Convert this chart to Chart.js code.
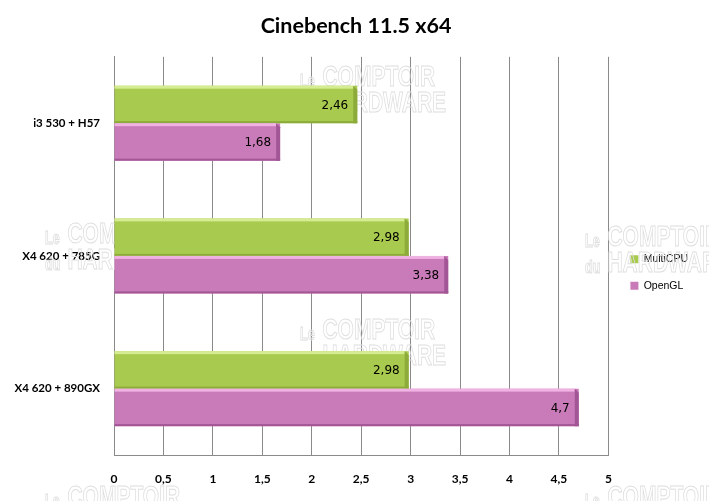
<!DOCTYPE html>
<html>
<head>
<meta charset="utf-8">
<script src="https://cdn.jsdelivr.net/npm/chart.js@4.4.1/dist/chart.umd.min.js"></script>
<style>
  html, body { margin: 0; padding: 0; background: #fff; }
  #wrap { width: 709px; height: 501px; }
</style>
</head>
<body>
<div id="wrap"><canvas id="chart"></canvas></div>
<script>
const categories = ['i3 530 + H57', 'X4 620 + 785G', 'X4 620 + 890GX']
const multiCpu = [2.46, 2.98, 2.98]
const openGl = [1.68, 3.38, 4.7]
const seriesNames = ['MultiCPU', 'OpenGL']

const frNum = v => String(v).replace('.', ',')

// filigrane "Le COMPTOIR du HARDWARE" derriere les barres
const watermark = {
    id: 'watermark',
    beforeDatasetsDraw(chart) {
        const ctx = chart.ctx
        const spots = [[300, 65], [45, 222], [585, 225], [300, 318], [45, 485], [585, 485]]
        ctx.save()
        ctx.strokeStyle = '#dedede'
        ctx.lineWidth = 1
        ctx.textBaseline = 'top'
        spots.forEach(([x, y]) => {
            ctx.save()
            ctx.translate(x, y)
            ctx.scale(0.7, 1)
            ctx.font = 'bold 18px "Liberation Sans"'
            ctx.strokeText('Le', 0, 8)
            ctx.strokeText('du', 0, 34)
            ctx.font = 'bold 30px "Liberation Sans"'
            ctx.strokeText('COMPTOIR', 32, -2)
            ctx.strokeText('HARDWARE', 32, 24)
            ctx.restore()
        })
        ctx.restore()
    }
}

// decale legende et titre un peu vers la droite
const shiftBoxes = {
    id: 'shiftBoxes',
    afterLayout(chart) {
        const lg = chart.legend
        const w = lg.width
        lg.left = chart.chartArea.right + 6
        lg.right = lg.left + w
        const tb = chart.titleBlock
        tb.left += 10
        tb.right += 10
    }
}

// relief des barres + valeurs
const barDecor = {
    id: 'barDecor',
    afterDatasetsDraw(chart) {
        const ctx = chart.ctx
        const shades = [
            {hi: '#d6ec92', lo: '#8dab3a'},
            {hi: '#efb2e2', lo: '#a25696'}
        ]
        chart.data.datasets.forEach((ds, i) => {
            const meta = chart.getDatasetMeta(i)
            meta.data.forEach((bar, j) => {
                const {x, y, base, height} = bar.getProps(['x', 'y', 'base', 'height'], true)
                const top = y - height / 2
                const bot = y + height / 2
                ctx.save()
                ctx.fillStyle = shades[i].hi
                ctx.fillRect(base, top, x - base - 4, 3)
                ctx.fillStyle = shades[i].lo
                ctx.fillRect(base, bot - 2, x - base, 2)
                ctx.beginPath()
                ctx.moveTo(x - 4, top)
                ctx.lineTo(x, top + 4)
                ctx.lineTo(x, bot)
                ctx.lineTo(x - 4, bot)
                ctx.closePath()
                ctx.fill()
                ctx.fillStyle = '#000'
                ctx.font = '12px "DejaVu Sans"'
                ctx.textAlign = 'right'
                ctx.textBaseline = 'middle'
                ctx.fillText(frNum(ds.data[j]), x - 9, y + 1)
                ctx.restore()
            })
        })
    }
}

new Chart(document.getElementById('chart'), {
    type: 'bar',
    data: {
        labels: categories,
        datasets: [
            {
                label: seriesNames[0],
                data: multiCpu,
                backgroundColor: '#a8ca4e',
                borderWidth: 0,
                categoryPercentage: 0.565,
                barPercentage: 1
            },
            {
                label: seriesNames[1],
                data: openGl,
                backgroundColor: '#c97bb9',
                borderWidth: 0,
                categoryPercentage: 0.565,
                barPercentage: 1
            }
        ]
    },
    options: {
        indexAxis: 'y',
        responsive: true,
        maintainAspectRatio: false,
        animation: false,
        layout: {padding: {left: 0, right: 17, top: 0, bottom: 0}},
        scales: {
            x: {
                min: 0,
                max: 5,
                ticks: {
                    stepSize: 0.5,
                    color: '#000',
                    padding: 17,
                    font: {family: 'Lato', weight: 'bold', size: 12},
                    callback: v => frNum(v)
                },
                grid: {color: '#8a8a8a', drawTicks: false},
                border: {color: '#8a8a8a'},
                afterFit: scale => { scale.height = 46 }
            },
            y: {
                ticks: {
                    color: '#000',
                    padding: 14,
                    font: {family: 'Lato', weight: 'bold', size: 11.5}
                },
                grid: {display: false, drawTicks: false},
                border: {color: '#8a8a8a'},
                afterFit: scale => { scale.width = 114 }
            }
        },
        plugins: {
            title: {
                display: true,
                text: 'Cinebench 11.5 x64',
                color: '#000',
                font: {family: 'Lato', weight: 'bold', size: 21.5},
                padding: {top: 13, bottom: 18}
            },
            legend: {
                position: 'right',
                title: {
                    display: true,
                    text: ' ',
                    font: {size: 10},
                    padding: {top: 16, bottom: 16}
                },
                labels: {
                    boxWidth: 8,
                    boxHeight: 8,
                    padding: 16,
                    color: '#000',
                    font: {family: 'Liberation Sans', size: 10.5}
                }
            },
            tooltip: {enabled: false}
        }
    },
    plugins: [watermark, shiftBoxes, barDecor]
})
</script>
</body>
</html>
